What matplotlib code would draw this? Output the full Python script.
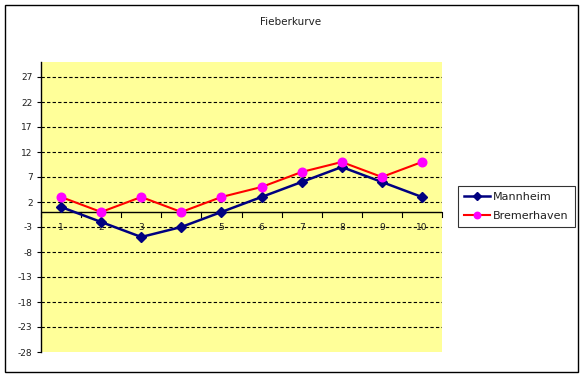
import matplotlib
matplotlib.use("Agg")
import matplotlib.pyplot as plt
from matplotlib.patches import Rectangle

categories = [1, 2, 3, 4, 5, 6, 7, 8, 9, 10]
mannheim = [1, -2, -5, -3, 0, 3, 6, 9, 6, 3]
bremerhaven = [3, 0, 3, 0, 3, 5, 8, 10, 7, 10]
y_ticks = [27, 22, 17, 12, 7, 2, -3, -8, -13, -18, -23, -28]
title = "Fieberkurve"

W, H = 584, 377
fig = plt.figure(figsize=(W / 100, H / 100), dpi=100)
fig.patch.set_facecolor("white")

# outer chart border
fig.add_artist(Rectangle((5 / W, 5 / H), 573 / W, 367 / H, transform=fig.transFigure,
                         fill=False, edgecolor="black", linewidth=1.0))

ax = fig.add_axes([41 / W, 1 - 352 / H, 401 / W, 290 / H])
ax.set_facecolor("#FFFF99")
ax.set_xlim(0.5, 10.5)
ax.set_ylim(-28, 30)

for s in ["top", "right", "bottom"]:
    ax.spines[s].set_visible(False)
ax.spines["left"].set_linewidth(1.0)

ax.set_yticks(y_ticks)
ax.set_yticklabels([str(v) for v in y_ticks], fontsize=6.5, color="#202020")
ax.tick_params(axis="y", length=3, width=0.8, pad=3)
for v in y_ticks[:-1]:
    ax.axhline(v, color="black", linestyle=(0, (3, 2)), linewidth=0.8, zorder=1)

# category axis at y=0
ax.axhline(0, color="black", linewidth=1.0, zorder=2)
ax.set_xticks([])
for i in range(11):
    ax.plot([0.5 + i, 0.5 + i], [0, -0.9], color="black", linewidth=0.8, zorder=2, clip_on=False)
for c in categories:
    ax.text(c, -3.2, str(c), ha="center", va="center", fontsize=6.5, color="#202020", zorder=2)

ax.plot(categories, mannheim, color="#000080", linewidth=1.8, marker="D", markersize=5,
        markerfacecolor="#000080", markeredgecolor="#000080", label="Mannheim", zorder=3)
ax.plot(categories, bremerhaven, color="#FF0000", linewidth=1.5, marker="o", markersize=6.2,
        markerfacecolor="#FF00FF", markeredgecolor="#FF00FF", label="Bremerhaven", zorder=3)

fig.text(291 / W, 1 - 22 / H, title, ha="center", va="center", fontsize=7.5, color="#202020")

leg = fig.legend(loc="center", bbox_to_anchor=(516.5 / W, 1 - 206.5 / H), frameon=True,
                 fancybox=False, edgecolor="black", fontsize=8, handlelength=2.3,
                 borderpad=0.55, labelspacing=0.75, handletextpad=0.3, borderaxespad=0,
                 markerscale=0.75)
leg.get_frame().set_linewidth(0.8)
for t in leg.get_texts():
    t.set_color("#202020")

fig.savefig("out.png", dpi=100, facecolor="white")
